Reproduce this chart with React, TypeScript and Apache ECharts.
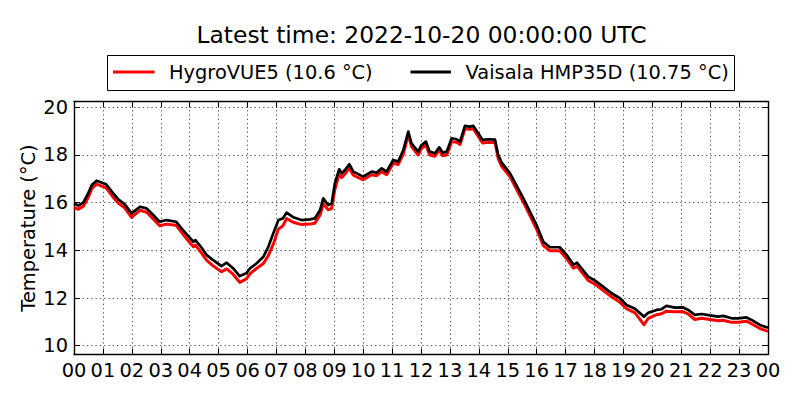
import React, { useEffect, useRef } from "react";
import * as echarts from "echarts";

const TITLE = "Latest time: 2022-10-20 00:00:00 UTC";
const NAME_HYGRO = "HygroVUE5 (10.6 °C)";
const NAME_VAISALA = "Vaisala HMP35D (10.75 °C)";
const Y_LABEL = "Temperature (°C)";

const X_TICK_LABELS = [
  "00", "01", "02", "03", "04", "05", "06", "07", "08", "09", "10", "11",
  "12", "13", "14", "15", "16", "17", "18", "19", "20", "21", "22", "23", "00",
];
const Y_TICKS = [10, 12, 14, 16, 18, 20];

// hours since 2022-10-19 00:00 UTC
const HOURS = [
  0.0, 0.15, 0.32, 0.49, 0.62, 0.78, 1.11, 1.36, 1.53, 1.75, 1.99, 2.28, 2.51, 2.74, 2.96,
  3.2, 3.53, 3.72, 3.95, 4.13, 4.2, 4.4, 4.59, 4.8, 5.1, 5.28, 5.5, 5.73, 5.96, 6.09,
  6.32, 6.55, 6.72, 6.89, 7.07, 7.22, 7.35, 7.58, 7.87, 8.16, 8.33, 8.51, 8.62, 8.79, 8.91,
  9.02, 9.17, 9.26, 9.37, 9.52, 9.66, 10.0, 10.29, 10.47, 10.64, 10.81, 11.04, 11.21, 11.39, 11.56,
  11.67, 11.9, 12.02, 12.17, 12.3, 12.48, 12.63, 12.75, 12.89, 13.06, 13.23, 13.35, 13.52, 13.69, 13.81,
  13.98, 14.13, 14.33, 14.56, 14.67, 14.79, 15.08, 15.54, 16.0, 16.23, 16.46, 16.8, 17.04, 17.27, 17.4,
  17.55, 17.78, 18.02, 18.25, 18.59, 18.88, 19.11, 19.4, 19.71, 19.86, 20.15, 20.32, 20.49, 20.78, 21.05,
  21.24, 21.47, 21.7, 21.99, 22.28, 22.45, 22.74, 22.97, 23.26, 23.43, 23.72, 24.0,
];

const VAISALA = [
  15.97, 15.88, 16.0, 16.39, 16.75, 16.92, 16.77, 16.39, 16.14, 15.94, 15.55, 15.83, 15.76, 15.48, 15.2,
  15.27, 15.2, 14.92, 14.6, 14.36, 14.43, 14.13, 13.8, 13.6, 13.34, 13.48, 13.25, 12.92, 13.04, 13.25,
  13.46, 13.73, 14.15, 14.71, 15.27, 15.34, 15.58, 15.39, 15.27, 15.3, 15.34, 15.69, 16.18, 15.9, 15.97,
  16.81, 17.4, 17.23, 17.37, 17.61, 17.3, 17.09, 17.3, 17.26, 17.44, 17.3, 17.79, 17.72, 18.21, 18.98,
  18.49, 18.14, 18.42, 18.56, 18.14, 18.07, 18.32, 18.1, 18.14, 18.7, 18.66, 18.56, 19.22, 19.19, 19.22,
  18.91, 18.63, 18.66, 18.64, 18.0, 17.68, 17.23, 16.18, 15.05, 14.36, 14.13, 14.13, 13.8, 13.4, 13.48,
  13.25, 12.9, 12.73, 12.52, 12.2, 11.99, 11.71, 11.55, 11.22, 11.38, 11.5, 11.53, 11.67, 11.6, 11.61,
  11.5, 11.29, 11.33, 11.27, 11.22, 11.25, 11.15, 11.15, 11.19, 11.08, 10.87, 10.75,
];

const HYGRO = [
  15.8, 15.72, 15.85, 16.22, 16.6, 16.78, 16.62, 16.22, 15.98, 15.78, 15.38, 15.68, 15.6, 15.32, 15.03,
  15.1, 15.05, 14.75, 14.4, 14.15, 14.22, 13.9, 13.58, 13.36, 13.1, 13.22, 13.0, 12.66, 12.8, 13.02,
  13.25, 13.45, 13.78, 14.25, 14.9, 15.02, 15.33, 15.18, 15.08, 15.1, 15.14, 15.48, 15.95, 15.7, 15.76,
  16.55, 17.2, 17.05, 17.2, 17.45, 17.15, 16.96, 17.17, 17.13, 17.3, 17.17, 17.65, 17.6, 18.05, 18.85,
  18.36, 18.0, 18.28, 18.42, 18.0, 17.95, 18.2, 17.97, 18.0, 18.56, 18.53, 18.44, 19.1, 19.08, 19.1,
  18.78, 18.5, 18.53, 18.52, 17.85, 17.52, 17.08, 16.02, 14.88, 14.2, 13.98, 13.98, 13.65, 13.25, 13.33,
  13.1, 12.74, 12.58, 12.37, 12.05, 11.82, 11.55, 11.38, 10.88, 11.15, 11.3, 11.34, 11.45, 11.42, 11.43,
  11.33, 11.1, 11.15, 11.1, 11.05, 11.07, 10.98, 10.98, 11.03, 10.92, 10.72, 10.6,
];

const FONT = "DejaVu Sans";
const Y_MIN = 9.631;
const Y_MAX = 20.243;

export default function App() {
  const ref = useRef<HTMLDivElement>(null);

  useEffect(() => {
    if (!ref.current) return;
    const chart = echarts.init(ref.current, undefined, { renderer: "svg" });

    const gridLine = { show: true, lineStyle: { color: "#555", width: 1, type: [1.3, 3] } };
    const frameLine = { show: true, onZero: false, lineStyle: { color: "#000", width: 1.4 } };
    const tick = { show: true, inside: true, length: 6, lineStyle: { color: "#000", width: 1 } };
    const tickLabelStyle = { fontFamily: FONT, fontSize: 19.4, color: "#000" };

    const xBase = { type: "value", min: 0, max: 24, interval: 1 };
    const yBase = { type: "value", min: Y_MIN, max: Y_MAX, minInterval: 2, maxInterval: 2, splitNumber: 5 };

    chart.setOption({
      animation: false,
      backgroundColor: "#fff",
      textStyle: { fontFamily: FONT },
      grid: { left: 74, right: 32, top: 101.5, bottom: 45.5, containLabel: false },
      xAxis: [
        {
          ...xBase,
          position: "bottom",
          axisLine: frameLine,
          axisTick: tick,
          splitLine: gridLine,
          axisLabel: {
            ...tickLabelStyle,
            margin: 6,
            formatter: (v: number) => X_TICK_LABELS[Math.round(v)] ?? "",
          },
        },
        {
          ...xBase,
          position: "top",
          axisLine: frameLine,
          axisTick: tick,
          splitLine: { show: false },
          axisLabel: { show: false },
        },
      ],
      yAxis: [
        {
          ...yBase,
          position: "left",
          axisLine: frameLine,
          axisTick: tick,
          splitLine: gridLine,
          axisLabel: {
            ...tickLabelStyle,
            margin: 6,
            showMinLabel: false,
            showMaxLabel: false,
            formatter: (v: number) => {
              const r = Math.round(v);
              return Math.abs(v - r) < 1e-6 && Y_TICKS.includes(r) ? String(r) : "";
            },
          },
        },
        {
          ...yBase,
          position: "right",
          axisLine: frameLine,
          axisTick: tick,
          splitLine: { show: false },
          axisLabel: { show: false },
        },
      ],
      series: [
        {
          name: NAME_HYGRO,
          type: "line",
          xAxisIndex: 0,
          yAxisIndex: 0,
          symbol: "none",
          showSymbol: false,
          data: HOURS.map((h, i) => [h, HYGRO[i]]),
          lineStyle: { color: "#ff0000", width: 3, join: "round" },
          itemStyle: { color: "#ff0000" },
          z: 2,
        },
        {
          name: NAME_VAISALA,
          type: "line",
          xAxisIndex: 0,
          yAxisIndex: 0,
          symbol: "none",
          showSymbol: false,
          data: HOURS.map((h, i) => [h, VAISALA[i]]),
          lineStyle: { color: "#000000", width: 2.7, join: "round" },
          itemStyle: { color: "#000000" },
          z: 3,
        },
      ],
      graphic: [
        {
          type: "text",
          x: 421.5,
          y: 34.5,
          style: {
            text: TITLE,
            fontFamily: FONT,
            fontSize: 23.4,
            fill: "#000",
            align: "center",
            verticalAlign: "middle",
          },
        },
        {
          type: "text",
          x: 28,
          y: 228,
          rotation: Math.PI / 2,
          style: {
            text: Y_LABEL,
            fontFamily: FONT,
            fontSize: 19.4,
            fill: "#000",
            align: "center",
            verticalAlign: "middle",
          },
        },
        {
          type: "rect",
          shape: { x: 107.5, y: 55.5, width: 627, height: 35 },
          style: { fill: "#fff", stroke: "#000", lineWidth: 1 },
        },
        {
          type: "line",
          shape: { x1: 113, y1: 72, x2: 154.5, y2: 72 },
          style: { stroke: "#ff0000", lineWidth: 3 },
        },
        {
          type: "text",
          x: 169,
          y: 72,
          style: {
            text: NAME_HYGRO,
            fontFamily: FONT,
            fontSize: 19.4,
            fill: "#000",
            align: "left",
            verticalAlign: "middle",
          },
        },
        {
          type: "line",
          shape: { x1: 410.5, y1: 72, x2: 451, y2: 72 },
          style: { stroke: "#000000", lineWidth: 3 },
        },
        {
          type: "text",
          x: 465.5,
          y: 72,
          style: {
            text: NAME_VAISALA,
            fontFamily: FONT,
            fontSize: 19.4,
            fill: "#000",
            align: "left",
            verticalAlign: "middle",
          },
        },
      ],
    });

    return () => chart.dispose();
  }, []);

  return (
    <div
      ref={ref}
      style={{ position: "fixed", left: 0, top: 0, width: 800, height: 400, background: "#fff" }}
    />
  );
}
